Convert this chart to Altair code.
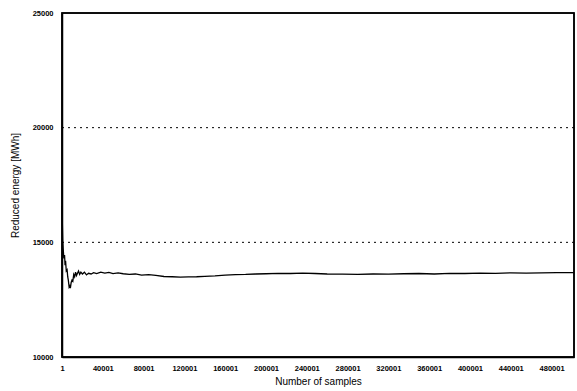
import altair as alt
import pandas as pd

samples = [1, 300, 700, 1200, 1800, 2500, 3000, 3500, 4200, 5000, 5600, 6200, 7000, 7600, 8200,
           9000, 9800, 10600, 11500, 12400, 13300, 14200, 15200, 16200, 17300, 18500, 20000,
           22000, 24000, 26000, 28500, 31000, 34000, 38000, 42000, 46000, 50000, 55000, 60000,
           66000, 72000, 78000, 85000, 92000, 100000, 108000, 116000, 124000, 132000, 140000,
           150000, 160000, 170000, 180000, 190000, 200000, 212000, 224000, 236000, 248000,
           260000, 275000, 290000, 305000, 320000, 335000, 350000, 365000, 380000, 395000,
           410000, 425000, 440000, 455000, 470000, 485000, 502000]
energy = [16600, 15900, 15100, 14700, 14300, 14450, 14000, 14200, 13750, 13800, 13500, 13350,
          13050, 13100, 13000, 13250, 13350, 13300, 13600, 13500, 13700, 13550, 13650, 13750,
          13600, 13700, 13620, 13700, 13580, 13650, 13620, 13680, 13640, 13700, 13660, 13690,
          13640, 13670, 13630, 13600, 13620, 13570, 13590, 13560, 13510, 13500, 13480, 13490,
          13500, 13520, 13540, 13570, 13590, 13600, 13620, 13630, 13650, 13640, 13660, 13640,
          13620, 13610, 13600, 13620, 13610, 13630, 13640, 13620, 13650, 13640, 13660, 13650,
          13670, 13660, 13670, 13680, 13680]

x_ticks = [1, 40001, 80001, 120001, 160001, 200001, 240001, 280001, 320001, 360001,
           400001, 440001, 480001]
y_ticks = [10000, 15000, 20000, 25000]
grid_values = [15000, 20000]

df = pd.DataFrame({"n": samples, "e": energy})
gdf = pd.DataFrame({"g": grid_values})

font = "Liberation Sans"

xscale = alt.Scale(domain=[1, 502000], nice=False, zero=False)
yscale = alt.Scale(domain=[10000, 25000], nice=False, zero=False)

line = alt.Chart(df).mark_line(color="black", strokeWidth=1.3, interpolate="linear").encode(
    x=alt.X("n:Q", scale=xscale,
            axis=alt.Axis(values=x_ticks, format="d", title="Number of samples",
                          grid=False, ticks=False, labelFontSize=7.5, labelFont=font,
                          labelFontWeight="bold", labelPadding=7, titleFont=font,
                          titleFontSize=10, titleFontWeight="normal", titlePadding=5,
                          domainColor="black", domainWidth=1.5, labelColor="black",
                          titleColor="black", labelFlush=False)),
    y=alt.Y("e:Q", scale=yscale,
            axis=alt.Axis(values=y_ticks, format="d", title="Reduced energy [MWh]",
                          grid=False, ticks=False, labelFontSize=7.5, labelFont=font,
                          labelFontWeight="bold", labelPadding=9, titleFont=font,
                          titleFontSize=10, titleFontWeight="normal", titlePadding=12,
                          domainColor="black", domainWidth=1.5, labelColor="black",
                          titleColor="black")),
)

grid = alt.Chart(gdf).mark_rule(color="black", strokeDash=[2, 4], strokeWidth=1).encode(
    y=alt.Y("g:Q", scale=yscale)
)

frame = alt.Chart(gdf).mark_rect(fill=None, stroke="black", strokeWidth=1.5).encode(
    x=alt.value(0), x2=alt.value(512), y=alt.value(0), y2=alt.value(344)
)

chart = alt.layer(line, grid, frame).properties(
    width=512, height=344,
    autosize=alt.AutoSizeParams(type="none"),
    padding={"left": 62, "top": 13, "right": 3, "bottom": 34},
).configure_view(stroke="black", strokeWidth=1.5).configure(background="white")

chart.save("out.html", embed_options={"renderer": "svg", "actions": False})
